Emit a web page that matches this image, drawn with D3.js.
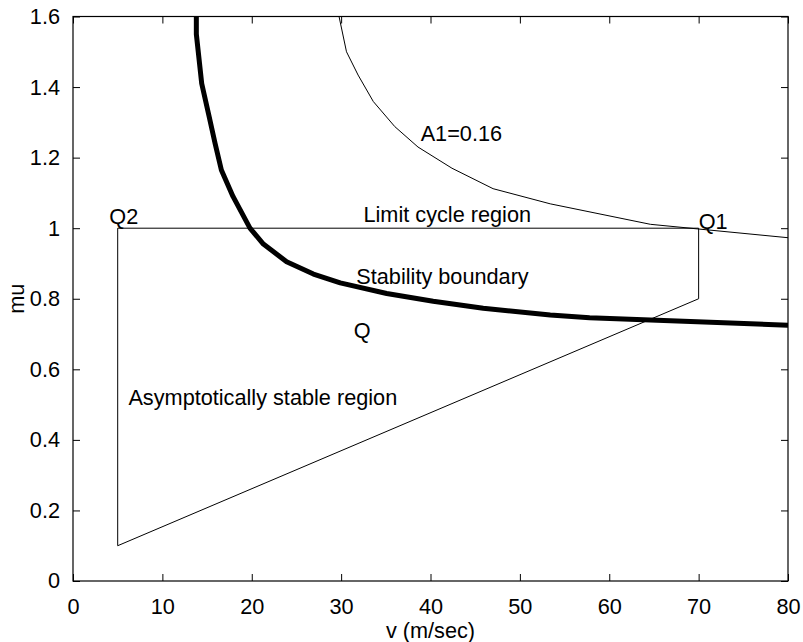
<!DOCTYPE html>
<html>
<head>
<meta charset="utf-8">
<script src="https://cdn.jsdelivr.net/npm/d3@7"></script>
<style>
  body { margin: 0; background: #fff; }
  text { font-family: Arial, "Liberation Sans", Helvetica, sans-serif; fill: #000; }
</style>
</head>
<body>
<svg id="chart" width="803" height="642"></svg>
<script>
// ---- data ----
const boundaryV  = [13.8, 13.8, 14.4, 15.2, 15.9, 16.6, 17.9, 19.8, 21.3, 23.9, 26.9, 29.9, 35.1, 40.3, 45.9, 53.4, 57.8, 64.6, 80];
const boundaryMu = [1.62, 1.55, 1.41, 1.32, 1.24, 1.165, 1.09, 1.0, 0.955, 0.905, 0.87, 0.845, 0.815, 0.793, 0.773, 0.754, 0.746, 0.74, 0.725];

const a1V  = [29.6, 30.6, 31.9, 33.6, 36.0, 38.6, 42.4, 47.0, 53.4, 64.6, 80];
const a1Mu = [1.62, 1.5, 1.434, 1.359, 1.288, 1.23, 1.17, 1.112, 1.069, 1.011, 0.973];

// region polygon Q2 -> Q1 -> corner -> bottom -> Q2
const regionV  = [5, 70, 70, 5, 5];
const regionMu = [1.0, 1.0, 0.8, 0.1, 1.0];

const xTicks = [0, 10, 20, 30, 40, 50, 60, 70, 80];
const yTicks = [0, 0.2, 0.4, 0.6, 0.8, 1, 1.2, 1.4, 1.6];

const labels = [
  { text: 'A1=0.16', v: 38.9, mu: 1.27 },
  { text: 'Limit cycle region', v: 32.5, mu: 1.04 },
  { text: 'Stability boundary', v: 31.7, mu: 0.865 },
  { text: 'Q', v: 31.4, mu: 0.71 },
  { text: 'Q2', v: 4.06, mu: 1.035 },
  { text: 'Q1', v: 70.0, mu: 1.02 },
  { text: 'Asymptotically stable region', v: 6.2, mu: 0.52 }
];

// ---- layout ----
const W = 803, H = 642;
const margin = { left: 73, right: 15, top: 16.5, bottom: 61 };
const FONT = 21.7;

const svg = d3.select('#chart');
const x = d3.scaleLinear().domain([0, 80]).range([margin.left, W - margin.right]);
const y = d3.scaleLinear().domain([0, 1.6]).range([H - margin.bottom, margin.top]);

svg.append('defs').append('clipPath').attr('id', 'plot-clip')
  .append('rect')
  .attr('x', x(0)).attr('y', y(1.6))
  .attr('width', x(80) - x(0)).attr('height', y(0) - y(1.6));

const plot = svg.append('g').attr('clip-path', 'url(#plot-clip)');

const line = d3.line().x(d => x(d[0])).y(d => y(d[1]));
const zip = (a, b) => a.map((v, i) => [v, b[i]]);

plot.append('path')
  .attr('d', line(zip(regionV, regionMu)))
  .attr('fill', 'none').attr('stroke', '#000').attr('stroke-width', 1);

plot.append('path')
  .attr('d', line(zip(a1V, a1Mu)))
  .attr('fill', 'none').attr('stroke', '#000').attr('stroke-width', 1);

plot.append('path')
  .attr('d', line(zip(boundaryV, boundaryMu)))
  .attr('fill', 'none').attr('stroke', '#000').attr('stroke-width', 5)
  .attr('stroke-linejoin', 'round');

// text annotations (MATLAB style: left aligned, vertically centred)
svg.append('g').selectAll('text')
  .data(labels)
  .join('text')
  .attr('x', d => x(d.v))
  .attr('y', d => y(d.mu))
  .attr('dy', '0.36em')
  .attr('font-size', FONT)
  .text(d => d.text);

// ---- axes (ticks inside, box on all sides) ----
const tick = 7;
const axisOpts = g => g.call(s => s.select('.domain').remove())
  .call(s => s.selectAll('line').attr('stroke', '#000'))
  .call(s => s.selectAll('text').attr('font-size', FONT).attr('font-family', 'Arial, "Liberation Sans", sans-serif'));

svg.append('g')
  .attr('transform', `translate(0,${y(0)})`)
  .call(d3.axisBottom(x).tickValues(xTicks).tickSizeInner(-tick).tickSizeOuter(0).tickPadding(11 + tick))
  .call(axisOpts);

svg.append('g')
  .attr('transform', `translate(0,${y(1.6)})`)
  .call(d3.axisTop(x).tickValues(xTicks).tickSizeInner(-tick).tickSizeOuter(0).tickFormat(''))
  .call(axisOpts);

svg.append('g')
  .attr('transform', `translate(${x(0)},0)`)
  .call(d3.axisLeft(y).tickValues(yTicks).tickSizeInner(-tick).tickSizeOuter(0).tickPadding(6 + tick)
    .tickFormat(d => d3.format('')(d)))
  .call(axisOpts);

svg.append('g')
  .attr('transform', `translate(${x(80)},0)`)
  .call(d3.axisRight(y).tickValues(yTicks).tickSizeInner(-tick).tickSizeOuter(0).tickFormat(''))
  .call(axisOpts);

svg.append('rect')
  .attr('x', x(0)).attr('y', y(1.6))
  .attr('width', x(80) - x(0)).attr('height', y(0) - y(1.6))
  .attr('fill', 'none').attr('stroke', '#000').attr('stroke-width', 1.2);

// axis titles
svg.append('text')
  .attr('x', (x(0) + x(80)) / 2)
  .attr('y', 630)
  .attr('dy', '0.36em')
  .attr('text-anchor', 'middle')
  .attr('font-size', FONT)
  .text('v (m/sec)');

svg.append('text')
  .attr('transform', `translate(16.5,${(y(0) + y(1.6)) / 2}) rotate(-90)`)
  .attr('dy', '0.36em')
  .attr('text-anchor', 'middle')
  .attr('font-size', FONT)
  .text('mu');
</script>
</body>
</html>
